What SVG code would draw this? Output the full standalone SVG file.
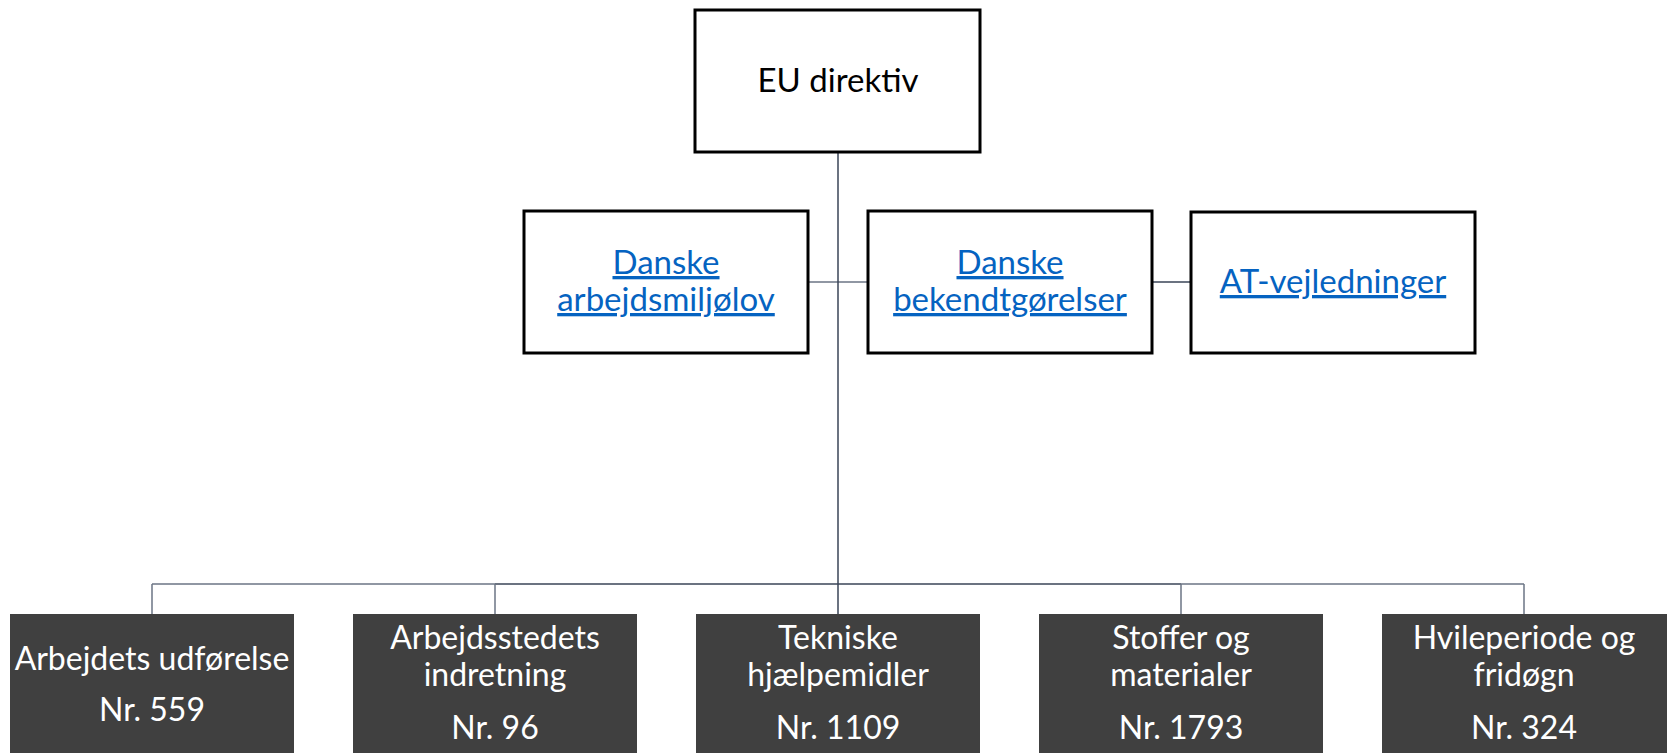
<svg xmlns="http://www.w3.org/2000/svg" width="1667" height="753" viewBox="0 0 1667 753">
<style>
.top{fill:#ffffff;stroke:#000000;stroke-width:3}
.dark{fill:#404040}
.t{font-family:Lato,"Open Sans","Liberation Sans",sans-serif;text-anchor:middle}
.blk{fill:#000000;font-size:33px}
.lnk{fill:#0563C1;font-size:33px;text-decoration:underline}
.wht{fill:#ffffff;font-size:32px}
.c1{stroke:#3A4557;stroke-width:1.5;fill:none}
.c2{stroke:#6B7585;stroke-width:1.5;fill:none}
</style>
<rect width="1667" height="753" fill="#ffffff"/>
<g id="connectors">
<line class="c2" x1="808" y1="282" x2="868" y2="282"/>
<line class="c1" x1="1152" y1="282" x2="1191" y2="282"/>
<line class="c2" x1="152" y1="584" x2="495" y2="584"/>
<line class="c2" x1="1181" y1="584" x2="1524" y2="584"/>
<line class="c1" x1="495" y1="584" x2="1181" y2="584"/>
<line class="c2" x1="152" y1="584" x2="152" y2="614"/>
<line class="c2" x1="495" y1="584" x2="495" y2="614"/>
<line class="c2" x1="1181" y1="584" x2="1181" y2="614"/>
<line class="c2" x1="1524" y1="584" x2="1524" y2="614"/>
<line class="c1" x1="838" y1="152" x2="838" y2="614"/>
</g>
<g id="eu">
<rect class="top" x="695" y="10" width="285" height="142"/>
<text class="t blk" x="838" y="92">EU direktiv</text>
</g>
<g id="arbejdsmiljolov">
<rect class="top" x="524" y="211" width="284" height="142"/>
<text class="t lnk" x="666" y="274">Danske</text>
<text class="t lnk" x="666" y="311">arbejdsmiljølov</text>
</g>
<g id="bekendtgorelser">
<rect class="top" x="868" y="211" width="284" height="142"/>
<text class="t lnk" x="1010" y="274">Danske</text>
<text class="t lnk" x="1010" y="311">bekendtgørelser</text>
</g>
<g id="at-vejledninger">
<rect class="top" x="1191" y="212" width="284" height="141"/>
<text class="t lnk" x="1333" y="293">AT-vejledninger</text>
</g>
<g id="arbejdets">
<rect class="dark" x="10" y="614" width="284" height="139"/>
<text class="t wht" x="152" y="670">Arbejdets udførelse</text>
<text class="t wht" x="152" y="721">Nr. 559</text>
</g>
<g id="arbejdsstedets">
<rect class="dark" x="353" y="614" width="284" height="139"/>
<text class="t wht" x="495" y="649">Arbejdsstedets</text>
<text class="t wht" x="495" y="686">indretning</text>
<text class="t wht" x="495" y="739">Nr. 96</text>
</g>
<g id="tekniske">
<rect class="dark" x="696" y="614" width="284" height="139"/>
<text class="t wht" x="838" y="649">Tekniske</text>
<text class="t wht" x="838" y="686">hjælpemidler</text>
<text class="t wht" x="838" y="739">Nr. 1109</text>
</g>
<g id="stoffer">
<rect class="dark" x="1039" y="614" width="284" height="139"/>
<text class="t wht" x="1181" y="649">Stoffer og</text>
<text class="t wht" x="1181" y="686">materialer</text>
<text class="t wht" x="1181" y="739">Nr. 1793</text>
</g>
<g id="hvileperiode">
<rect class="dark" x="1382" y="614" width="285" height="139"/>
<text class="t wht" x="1524" y="649">Hvileperiode og</text>
<text class="t wht" x="1524" y="686">fridøgn</text>
<text class="t wht" x="1524" y="739">Nr. 324</text>
</g>
</svg>
